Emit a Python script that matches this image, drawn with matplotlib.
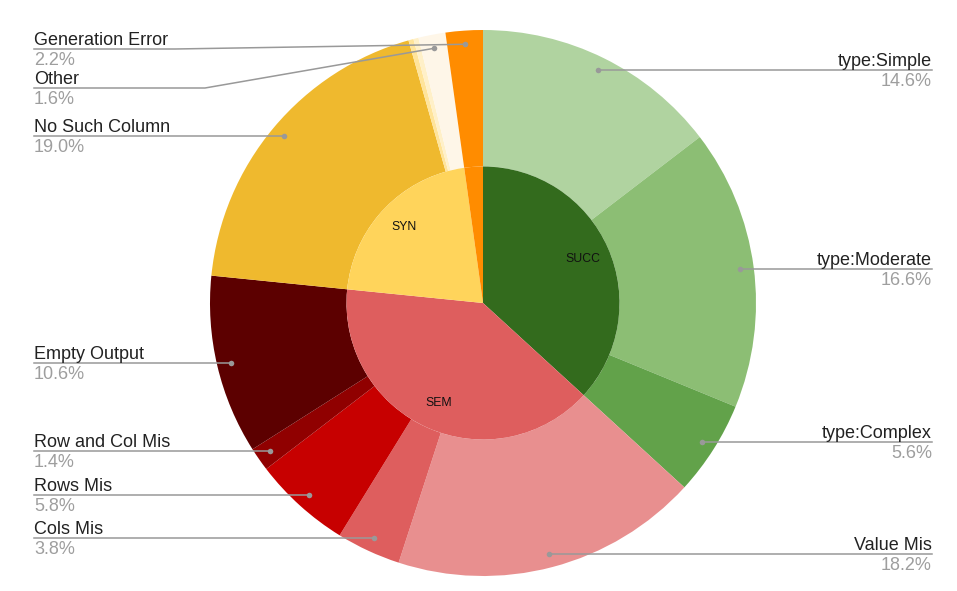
import matplotlib.pyplot as plt
import numpy as np

plt.rcParams['font.family'] = ['Liberation Sans', 'DejaVu Sans']

# outer ring, clockwise from 12 o'clock
outer_labels = ['type:Simple', 'type:Moderate', 'type:Complex', 'Value Mis', 'Cols Mis',
                'Rows Mis', 'Row and Col Mis', 'Empty Output', 'No Such Column', '', '',
                'Other', 'Generation Error']
outer_pct = [14.6, 16.6, 5.6, 18.2, 3.8, 5.8, 1.4, 10.6, 19.0, 0.3, 0.3, 1.6, 2.2]
outer_colors = ['#b0d3a0', '#8cbe74', '#62a24a', '#e88f8f', '#de5e5e',
                '#c70000', '#900000', '#5c0000', '#efb92e', '#ffe49a', '#fff0c8',
                '#fef6e8', '#ff8c00']

# inner pie
inner_labels = ['SUCC', 'SEM', 'SYN', '']
inner_pct = [36.8, 39.8, 21.2, 2.2]
inner_colors = ['#336b1d', '#de5e5e', '#ffd45b', '#ff8c00']

# layout: labels whose leader line bends (underline y px from top, bend x)
bent = {'Other': (88, 205), 'Generation Error': (49, 175)}

W, H = 957, 591
cx, cy, R = 483, H - 303, 273

fig = plt.figure(figsize=(W / 100, H / 100), dpi=100)
ax = fig.add_axes([0, 0, 1, 1])

outer, _ = ax.pie(outer_pct, radius=R, center=(cx, cy), startangle=90, counterclock=False,
                  colors=outer_colors, wedgeprops=dict(width=R / 2, linewidth=0))
inner, inner_txt = ax.pie(inner_pct, radius=R / 2, center=(cx, cy), startangle=90,
                          counterclock=False, colors=inner_colors, labels=inner_labels,
                          labeldistance=0.8, wedgeprops=dict(linewidth=0),
                          textprops=dict(fontsize=8.8, color='#111111', ha='center', va='center'))

ax.set_xlim(0, W)
ax.set_ylim(0, H)
ax.set_aspect('equal')
ax.axis('off')

for w, name, pct in zip(outer, outer_labels, outer_pct):
    if not name:
        continue
    a = np.radians((w.theta1 + w.theta2) / 2)
    dx, dy = cx + 0.95 * R * np.cos(a), cy + 0.95 * R * np.sin(a)
    if dx < cx:
        x0 = 34
        if name in bent:
            ly, bx = bent[name]
            Y = H - ly
        else:
            Y, bx = dy, dx
        ax.plot([x0, bx, dx], [Y, Y, dy], color='#999999', lw=1.1)
        ha = 'left'
    else:
        x0 = 932
        Y = dy
        ax.plot([dx, x0], [dy, Y], color='#999999', lw=1.1)
        ha = 'right'
    ax.plot(dx, dy, 'o', color='#999999', ms=4, mec='none')
    ax.text(x0, Y + 4, name, ha=ha, va='baseline', fontsize=13, color='#222222')
    ax.text(x0, Y - 16, f'{pct:.1f}%', ha=ha, va='baseline', fontsize=13, color='#9e9e9e')

fig.savefig('out.png', dpi=100, facecolor='white')
